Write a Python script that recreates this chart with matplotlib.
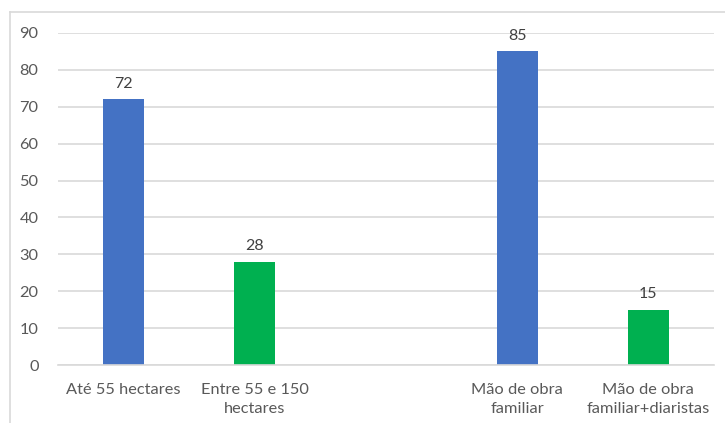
import numpy as np
import matplotlib
matplotlib.use("Agg")
import matplotlib.pyplot as plt
from matplotlib.lines import Line2D

plt.rcParams['font.family'] = ['Lato', 'DejaVu Sans']

categories = ["Até 55 hectares", "Entre 55 e 150\nhectares", "",
              "Mão de obra\nfamiliar", "Mão de obra\nfamiliar+diaristas"]
values = [72, 28, None, 85, 15]
colors = ["#4472c4", "#00b050", None, "#4472c4", "#00b050"]
yticks = [0, 10, 20, 30, 40, 50, 60, 70, 80, 90]

fig = plt.figure(figsize=(7.25, 4.23), dpi=100)
ax = fig.add_axes((58 / 725, 1 - 365 / 423, 656 / 725, 332 / 423))

x = np.arange(len(categories))
for i in range(len(categories)):
    if values[i] is None:
        continue
    ax.bar(x[i], values[i], width=0.31, color=colors[i], zorder=2)
    ax.text(x[i], values[i] + 2.3, str(values[i]), ha='center', va='bottom',
            fontsize=11.5, color='#404040')

ax.set_xlim(-0.5, len(categories) - 0.5)
ax.set_ylim(0, 90)
ax.set_yticks(yticks)
ax.set_xticks(x)
ax.set_xticklabels(categories, fontsize=11.8, color='#595959', linespacing=1.45)
ax.tick_params(axis='y', labelsize=11.8, labelcolor='#595959', length=0, pad=14)
ax.tick_params(axis='x', length=0, pad=13)
ax.yaxis.grid(True, color='#d9d9d9', linewidth=1.2, zorder=0)
ax.set_axisbelow(True)
for s in ['top', 'right', 'left']:
    ax.spines[s].set_visible(False)
ax.spines['bottom'].set_color('#d9d9d9')
ax.spines['bottom'].set_linewidth(1.2)

# chart area border
fx0, fy0 = 10 / 725, 1 - 12 / 423
fig.add_artist(Line2D([fx0, 1.0], [fy0, fy0], transform=fig.transFigure,
                      color='#d9d9d9', linewidth=1.2))
fig.add_artist(Line2D([fx0, fx0], [fy0, 0.0], transform=fig.transFigure,
                      color='#d9d9d9', linewidth=1.2))

fig.savefig("out.png", dpi=100)
